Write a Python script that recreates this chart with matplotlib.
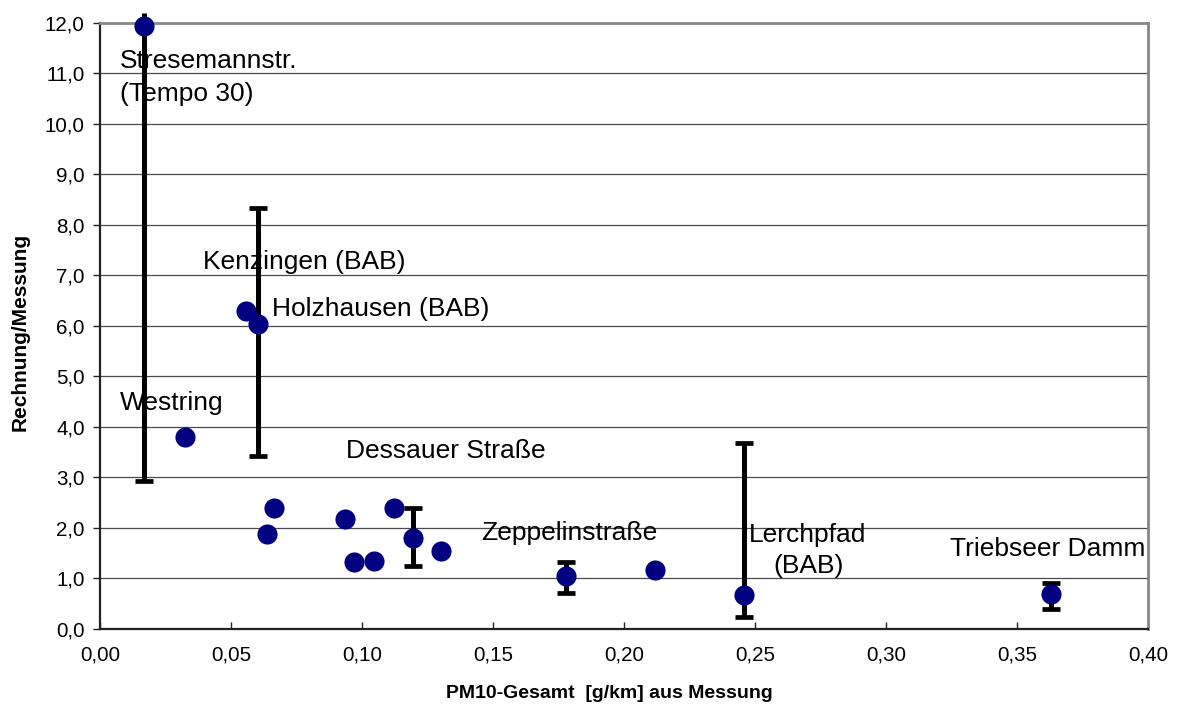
import matplotlib
matplotlib.use("Agg")
import matplotlib.pyplot as plt
import matplotlib.transforms as mtransforms
from matplotlib.ticker import FuncFormatter, MultipleLocator
import numpy as np

plt.rcParams['font.family'] = ['Liberation Sans', 'DejaVu Sans']

# ---- data ----
pm10_measured = [0.0168, 0.0557, 0.0602, 0.0324, 0.0663, 0.0639, 0.0936, 0.0969,
                 0.1046, 0.1121, 0.1196, 0.1300, 0.1780, 0.2117, 0.2457, 0.3630]
ratio = [11.94, 6.29, 6.03, 3.80, 2.40, 1.875, 2.17, 1.32,
         1.35, 2.40, 1.81, 1.55, 1.04, 1.17, 0.68, 0.69]

# error bars: x, lower end, upper end, whether upper cap is visible
err_x = [0.0168, 0.0602, 0.1196, 0.1780, 0.2457, 0.3630]
err_low = [2.92, 3.43, 1.24, 0.71, 0.23, 0.40]
err_high = [12.19, 8.33, 2.40, 1.32, 3.68, 0.91]
err_top_cap = [False, True, True, True, True, True]

labels = ["Stresemannstr.", "(Tempo 30)", "Kenzingen (BAB)", "Holzhausen (BAB)",
          "Westring", "Dessauer Straße", "Zeppelinstraße", "Lerchpfad", "(BAB)",
          "Triebseer Damm"]
label_x = [0.0076, 0.0076, 0.0392, 0.0655, 0.0076, 0.0938, 0.1454, 0.2477, 0.2569, 0.3244]
label_y = [11.10, 10.46, 7.12, 6.20, 4.33, 3.38, 1.76, 1.73, 1.10, 1.44]

xlabel = "PM10-Gesamt  [g/km] aus Messung"
ylabel = "Rechnung/Messung"

W, H = 1178, 706
fig = plt.figure(figsize=(W / 100, H / 100), dpi=100)
ax = fig.add_axes([100 / W, (H - 629) / H, (1148 - 100) / W, (629 - 22.7) / H])

ax.set_xlim(0, 0.40)
ax.set_ylim(0, 12)
ax.xaxis.set_major_locator(MultipleLocator(0.05))
ax.yaxis.set_major_locator(MultipleLocator(1.0))
ax.xaxis.set_major_formatter(FuncFormatter(lambda v, p: f"{v:.2f}".replace(".", ",")))
ax.yaxis.set_major_formatter(FuncFormatter(lambda v, p: f"{v:.1f}".replace(".", ",")))

ax.grid(axis='y', color='#4a4a4a', linewidth=0.9, zorder=0)
ax.set_axisbelow(True)

for s in ['top', 'right']:
    ax.spines[s].set_color('#888888')
    ax.spines[s].set_linewidth(2.0)
for s in ['left', 'bottom']:
    ax.spines[s].set_color('#222222')
    ax.spines[s].set_linewidth(1.6)

ax.tick_params(axis='y', direction='out', length=5, width=1, pad=6,
               labelsize=14.8, colors='#222222', labelcolor='black')
ax.tick_params(axis='x', direction='in', length=5, width=1, pad=12,
               labelsize=14.8, colors='#222222', labelcolor='black')

# error bars
clip = mtransforms.TransformedBbox(mtransforms.Bbox([[0, 0], [1, 1.017]]), ax.transAxes)
vl = ax.vlines(err_x, err_low, err_high, colors='black', linewidth=3.6, zorder=3)
vl.set_clip_box(clip)
ax.plot(err_x, err_low, linestyle='none', marker='_', markersize=13,
        markeredgewidth=3.4, color='black', zorder=3)
cap_x = [x for x, c in zip(err_x, err_top_cap) if c]
cap_y = [y for y, c in zip(err_high, err_top_cap) if c]
ax.plot(cap_x, cap_y, linestyle='none', marker='_', markersize=13,
        markeredgewidth=3.4, color='black', zorder=3)

# points
pts = ax.plot(pm10_measured, ratio, linestyle='none', marker='o', markersize=14.5,
              color='#000080', markeredgewidth=0, zorder=4)
for p in pts:
    p.set_clip_on(False)

# annotations
for t, x, y in zip(labels, label_x, label_y):
    ax.text(x, y, t, fontsize=19, ha='left', va='baseline', color='black', zorder=5)

fig.text(20 / W, (H - 332) / H, ylabel, rotation=90, ha='center', va='center',
         fontsize=15, fontweight='bold')
fig.text(609 / W, (H - 694) / H, xlabel, ha='center', va='center',
         fontsize=14, fontweight='bold')

fig.savefig("out.png", dpi=100)
